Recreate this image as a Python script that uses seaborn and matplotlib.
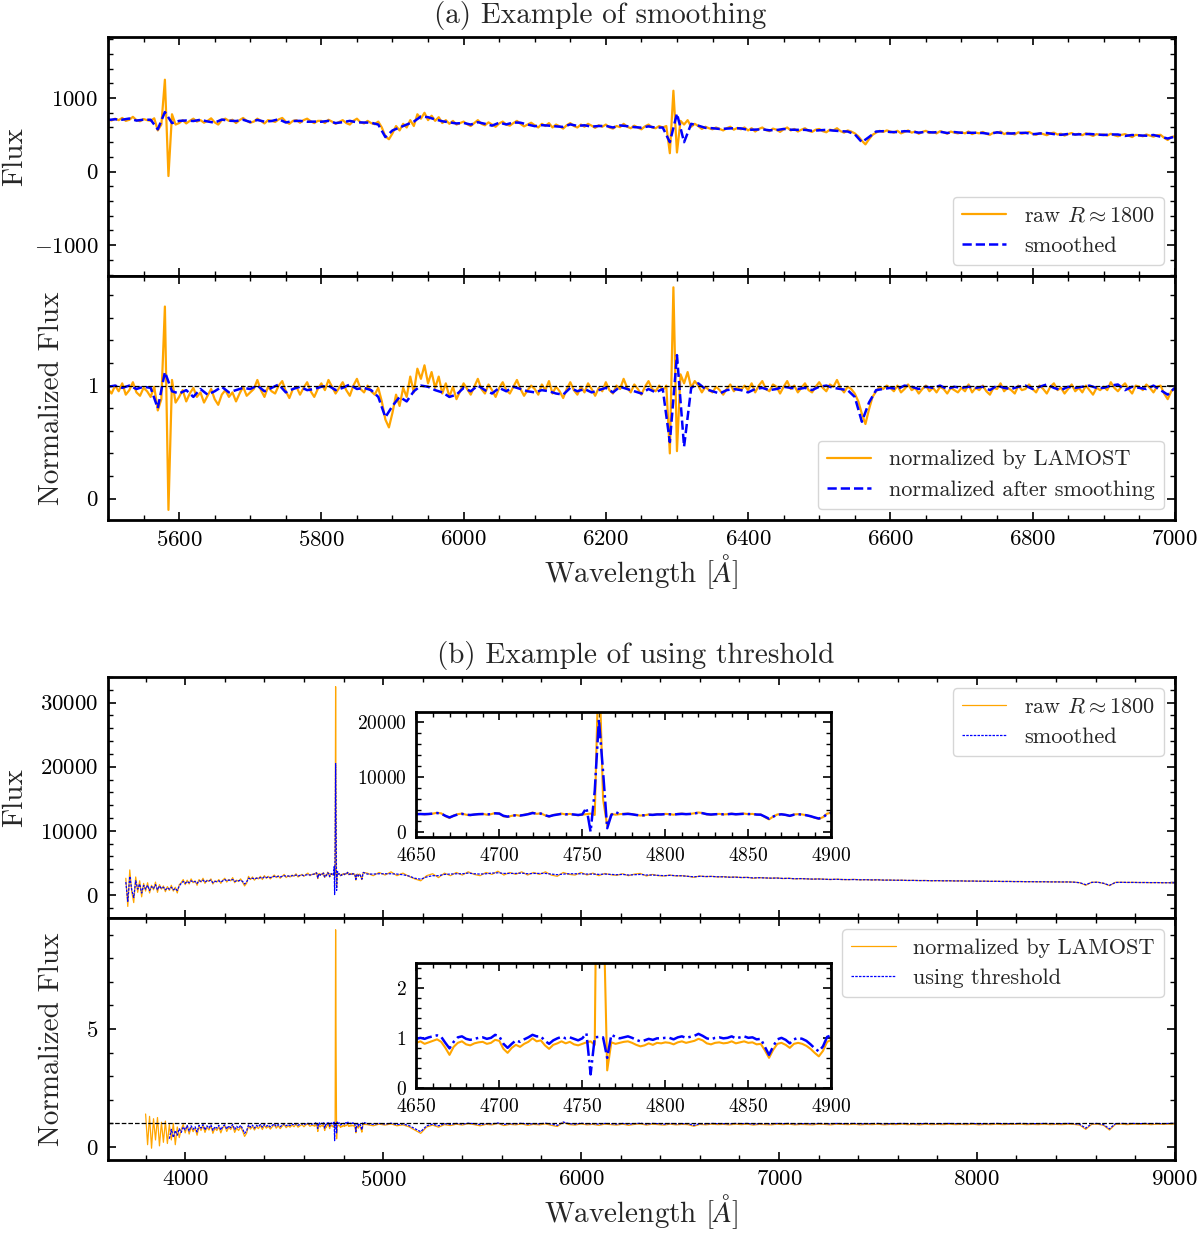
import numpy as np
import seaborn as sns
import matplotlib
matplotlib.use('Agg')
import matplotlib.pyplot as plt
from matplotlib.ticker import MultipleLocator

# ---------------- (a) smoothing, 5500-7000 A ----------------
wave_a = np.arange(5500, 7001, 5)
wave_a_s = np.arange(5500, 7001, 10)

flux_raw_a = [
    710, 695, 720, 700, 730, 690, 705, 745, 700, 685, 715, 700, 690, 725, 560, 640, 1250, -60, 780, 640,
    660, 700, 655, 690, 720, 680, 700, 665, 690, 725, 670, 640, 700, 720, 690, 705, 660, 700, 730, 690,
    665, 680, 720, 690, 655, 700, 690, 675, 710, 730, 680, 650, 690, 700, 665, 700, 720, 685, 660, 690,
    690, 660, 705, 680, 650, 675, 700, 660, 640, 690, 720, 670, 655, 690, 660, 645, 680, 600, 480, 440,
    520, 620, 560, 650, 600, 700, 620, 780, 720, 800, 700, 760, 690, 740, 660, 700, 650, 690, 640, 660,
    680, 645, 620, 660, 700, 650, 630, 670, 640, 610, 655, 680, 640, 625, 660, 690, 650, 615, 640, 665,
    630, 600, 650, 620, 660, 600, 640, 615, 585, 630, 660, 620, 600, 640, 610, 650, 625, 595, 630, 610,
    640, 600, 585, 620, 605, 650, 610, 590, 625, 600, 575, 615, 640, 600, 590, 620, 600, 620, 250, 1100,
    260, 690, 640, 700, 610, 650, 620, 580, 610, 590, 575, 600, 580, 560, 590, 610, 570, 595, 575, 600,
    560, 590, 545, 580, 600, 565, 550, 585, 570, 540, 575, 600, 560, 580, 545, 570, 590, 555, 540, 570,
    580, 550, 535, 570, 560, 590, 550, 530, 560, 545, 520, 480, 420, 370, 440, 500, 530, 555, 540, 560,
    545, 530, 555, 520, 540, 560, 530, 545, 515, 540, 555, 525, 540, 520, 550, 535, 515, 545, 530, 520,
    535, 520, 545, 510, 530, 520, 540, 515, 500, 530, 525, 545, 510, 530, 520, 505, 535, 515, 525, 540,
    515, 500, 525, 510, 495, 520, 530, 505, 515, 490, 510, 525, 500, 515, 495, 520, 505, 485, 510, 500,
    505, 490, 515, 495, 480, 500, 510, 490, 470, 500, 495, 480, 505, 490, 475, 495, 500, 460, 430, 470,
    480]

flux_smooth_a = [
    702, 712, 706, 722, 694, 706, 705, 575, 810, 660,
    690, 695, 688, 705, 682, 665, 708, 692, 688, 705,
    675, 702, 680, 688, 712, 668, 688, 690, 678, 680,
    678, 690, 660, 672, 690, 670, 668, 665, 640, 470,
    560, 600, 640, 680, 750, 740, 710, 685, 670, 655,
    662, 640, 672, 650, 625, 665, 642, 668, 665, 640,
    618, 632, 625, 615, 608, 642, 622, 630, 612, 620,
    622, 600, 628, 618, 605, 598, 615, 598, 600, 400,
    790, 400, 650, 625, 595, 590, 580, 585, 590, 588,
    568, 572, 575, 562, 565, 580, 570, 568, 568, 555,
    562, 568, 558, 550, 545, 508, 400, 470, 545, 550,
    538, 538, 550, 545, 530, 540, 532, 542, 525, 538,
    528, 528, 528, 525, 512, 535, 520, 518, 525, 528,
    508, 518, 525, 510, 500, 512, 505, 508, 512, 505,
    498, 505, 505, 485, 498, 492, 488, 498, 475, 450,
    475]

norm_lamost_a = [
    0.97, 0.93, 1.00, 0.95, 1.02, 0.92, 0.96, 1.03, 0.94, 0.91, 0.98, 0.95, 0.90, 0.99, 0.78, 0.88, 1.70, -0.10, 1.05, 0.85,
    0.90, 0.96, 0.86, 0.93, 0.98, 0.90, 0.94, 0.85, 0.91, 0.97, 0.88, 0.83, 0.92, 0.96, 0.90, 0.94, 0.86, 0.93, 0.99, 0.91,
    0.94, 0.97, 1.05, 0.96, 0.90, 0.99, 0.95, 0.93, 1.00, 1.04, 0.95, 0.89, 0.97, 0.99, 0.92, 0.98, 1.03, 0.95, 0.90, 0.97,
    1.02, 0.96, 1.05, 0.99, 0.93, 0.98, 1.03, 0.96, 0.91, 1.00, 1.06, 0.97, 0.94, 1.00, 0.95, 0.92, 0.98, 0.86, 0.70, 0.63,
    0.76, 0.92, 0.82, 0.98, 0.90, 1.08, 0.94, 1.15, 1.06, 1.18, 1.02, 1.12, 0.98, 1.08, 0.93, 1.02, 0.90, 0.99, 0.88, 0.95,
    1.02, 0.97, 0.92, 0.99, 1.06, 0.97, 0.93, 1.01, 0.96, 0.90, 0.98, 1.03, 0.96, 0.93, 0.99, 1.05, 0.97, 0.91, 0.96, 1.00,
    0.97, 0.92, 1.01, 0.96, 1.04, 0.93, 0.99, 0.95, 0.89, 0.97, 1.03, 0.96, 0.92, 0.99, 0.94, 1.02, 0.97, 0.91, 0.98, 0.95,
    1.03, 0.96, 0.93, 1.00, 0.97, 1.06, 0.98, 0.94, 1.01, 0.97, 0.92, 0.99, 1.04, 0.97, 0.95, 1.00, 0.96, 1.00, 0.40, 1.87,
    0.42, 1.10, 1.02, 1.12, 0.98, 1.04, 1.00, 0.94, 0.99, 0.96, 0.94, 0.99, 0.96, 0.92, 0.97, 1.01, 0.95, 0.99, 0.96, 1.00,
    0.96, 1.02, 0.94, 1.00, 1.04, 0.97, 0.95, 1.01, 0.99, 0.93, 0.99, 1.04, 0.97, 1.00, 0.94, 0.98, 1.02, 0.96, 0.94, 0.99,
    1.03, 0.98, 0.95, 1.01, 0.99, 1.05, 0.98, 0.94, 0.99, 0.97, 0.93, 0.86, 0.75, 0.66, 0.79, 0.90, 0.95, 0.99, 0.97, 1.00,
    0.98, 0.95, 1.00, 0.94, 0.97, 1.01, 0.96, 0.98, 0.93, 0.97, 1.00, 0.95, 0.98, 0.94, 0.99, 0.97, 0.93, 0.98, 0.96, 0.94,
    0.98, 0.95, 1.01, 0.94, 0.98, 0.96, 1.00, 0.95, 0.92, 0.98, 0.97, 1.02, 0.95, 0.98, 0.96, 0.93, 1.00, 0.96, 0.97, 1.01,
    0.97, 0.94, 1.00, 0.97, 0.93, 0.99, 1.02, 0.96, 0.98, 0.93, 0.97, 1.01, 0.95, 0.98, 0.94, 1.00, 0.96, 0.92, 0.98, 0.96,
    0.99, 0.96, 1.03, 0.98, 0.95, 0.99, 1.02, 0.97, 0.93, 1.00, 0.99, 0.96, 1.01, 0.98, 0.94, 0.99, 1.00, 0.93, 0.88, 0.95,
    0.98]

norm_smooth_a = [
    0.99, 1.00, 0.98, 1.00, 0.97, 0.99, 0.98, 0.80, 1.12, 0.95,
    0.93, 0.96, 0.90, 0.97, 0.92, 0.95, 0.99, 0.94, 0.96, 0.98,
    0.97, 1.00, 0.95, 0.98, 1.01, 0.94, 0.97, 0.99, 0.96, 0.97,
    0.99, 1.00, 0.96, 0.98, 1.01, 0.97, 0.98, 0.96, 0.90, 0.72,
    0.82, 0.90, 0.86, 0.95, 1.00, 0.99, 0.96, 0.94, 0.90, 0.92,
    0.98, 0.95, 1.00, 0.96, 0.93, 0.98, 0.95, 0.99, 0.97, 0.95,
    0.94, 0.96, 0.95, 0.93, 0.92, 0.98, 0.95, 0.97, 0.94, 0.96,
    0.98, 0.94, 0.99, 0.97, 0.95, 0.93, 0.97, 0.94, 0.97, 0.50,
    1.27, 0.46, 0.98, 1.02, 0.97, 0.95, 0.93, 0.96, 0.97, 0.96,
    0.94, 0.97, 0.98, 0.96, 0.97, 0.99, 0.98, 0.97, 0.98, 0.96,
    0.99, 1.00, 0.98, 0.97, 0.96, 0.90, 0.68, 0.85, 0.96, 0.97,
    0.98, 0.97, 1.00, 0.99, 0.97, 0.99, 0.98, 1.00, 0.97, 0.99,
    0.98, 0.99, 0.98, 0.99, 0.96, 1.00, 0.98, 0.97, 0.99, 1.00,
    0.97, 0.99, 1.01, 0.98, 0.96, 0.99, 0.98, 0.99, 1.00, 0.98,
    0.98, 1.00, 1.01, 0.96, 0.99, 0.98, 0.97, 1.00, 0.96, 0.92,
    0.98]

# ---------------- (b) threshold, 3700-9000 A ----------------
wave_b_left = np.arange(3700, 4641, 10)
wave_b_zoom = np.arange(4650, 4900.1, 2.5)
wave_b_right = np.arange(4920, 9001, 30)
wave_bn_left = np.arange(3800, 4641, 10)
wave_bt_left = np.arange(3920, 4641, 10)

flux_raw_b_left = [
    2600, -1800, 3900, 500, -1200, 2800, 400, 2200, -300, 1800,
    600, 1900, 300, 1500, 800, 2000, 400, 1600, 900, 1400,
    500, 1300, 700, 1500, 600, 1200, 300, 1600, 1900, 2400,
    1600, 2300, 1700, 2500, 1900, 2200, 1500, 2400, 2000, 2600,
    1800, 2300, 2100, 2500, 1700, 2200, 2000, 2400, 1800, 2300,
    2600, 2000, 2400, 2200, 2700, 1900, 2300, 2100, 2500, 2000,
    1400, 1800, 2900, 2400, 2800, 2300, 2700, 2500, 2900, 2400,
    3000, 2600, 2900, 2500, 2800, 3100, 2700, 3000, 2600, 2900,
    3200, 2700, 3000, 2800, 3100, 2900, 3300, 2800, 3000, 3200,
    2900, 3200, 3400, 3000, 3200]
flux_smooth_b_left = [
    2000, -1000, 2900, 800, -400, 2200, 900, 1700, 300, 1500,
    900, 1500, 700, 1300, 1000, 1600, 800, 1400, 1000, 1200,
    800, 1100, 900, 1200, 800, 1000, 700, 1400, 1800, 2100,
    1800, 2100, 1900, 2200, 2000, 2100, 1800, 2200, 2100, 2300,
    2000, 2200, 2200, 2300, 1900, 2100, 2100, 2200, 2000, 2200,
    2400, 2200, 2300, 2300, 2400, 2100, 2200, 2200, 2300, 2100,
    1700, 2000, 2600, 2500, 2600, 2500, 2600, 2600, 2700, 2600,
    2800, 2700, 2800, 2700, 2800, 2900, 2800, 2900, 2800, 2900,
    3000, 2900, 2950, 2900, 3000, 3000, 3100, 2950, 3050, 3100,
    3000, 3100, 3200, 3100, 3150]

flux_raw_b_zoom = [
    3250, 3300, 3200, 3280, 3350, 3500, 3400, 2900, 2550, 3000,
    3250, 3350, 3150, 3050, 3200, 3250, 3300, 3150, 3250, 3450,
    3400, 2850, 2750, 2950, 3100, 2950, 3150, 3300, 3550, 3300,
    3400, 3050, 2800, 3100, 3200, 3350, 3200, 3300, 3150, 3050,
    3150, 3250, 3350, 3100, 32500, 6000, 1150, 3300, 3150, 3250,
    3300, 3350, 3250, 3100, 3000, 3050, 3200, 3100, 3250, 3200,
    3300, 3250, 3150, 3300, 3350, 3250, 3300, 3400, 3550, 3450,
    3200, 3150, 3250, 3300, 3200, 3250, 3350, 3200, 3300, 3350,
    3250, 3300, 3150, 3200, 2700, 2300, 2800, 3200, 3250, 3100,
    2900, 3200, 3250, 3200, 3050, 2850, 2600, 2400, 2700, 3350,
    3500]
flux_smooth_b_zoom = [
    3250, 3270, 3250, 3280, 3350, 3450, 3350, 2950, 2650, 2950,
    3200, 3300, 3150, 3100, 3180, 3250, 3270, 3200, 3250, 3400,
    3350, 2950, 2800, 2950, 3050, 3000, 3100, 3250, 3450, 3350,
    3350, 3050, 2850, 3050, 3180, 3300, 3220, 3250, 3180, 3100,
    3200, 4400, 50, 7500, 20500, 11000, 700, 3100, 3650, 3250,
    3250, 3300, 3220, 3100, 3020, 3050, 3150, 3120, 3200, 3200,
    3250, 3230, 3180, 3250, 3300, 3250, 3280, 3380, 3500, 3420,
    3250, 3180, 3230, 3270, 3220, 3240, 3300, 3230, 3270, 3320,
    3270, 3270, 3180, 3150, 2800, 2420, 2800, 3150, 3220, 3120,
    2950, 3150, 3220, 3180, 3050, 2880, 2650, 2450, 2700, 3250,
    3500]

flux_raw_b_right = [
    3400, 3000, 3500, 3100, 3600, 3000, 3400, 2900, 2500, 2200,
    3000, 3300, 2700, 3400, 3000, 3500, 3100, 3600, 3200, 3000,
    3500, 3200, 3700, 3100, 3500, 3200, 3600, 3100, 3500, 3200,
    3600, 3100, 2900, 3500, 3200, 3100, 3500, 3100, 3400, 3000,
    3350, 3150, 3050, 3300, 3000, 3250, 3350, 2950, 3200, 3000,
    2950, 3100, 2950, 3000, 2900, 2750, 2950, 2850, 2900, 2800,
    2850, 2750, 2800, 2700, 2750, 2600, 2700, 2650, 2600, 2650,
    2550, 2600, 2500, 2550, 2500, 2450, 2500, 2450, 2400, 2450,
    2400, 2380, 2420, 2350, 2380, 2330, 2360, 2300, 2320, 2280,
    2300, 2250, 2270, 2230, 2250, 2200, 2230, 2190, 2210, 2170,
    2190, 2150, 2170, 2130, 2150, 2110, 2130, 2090, 2110, 2080,
    2090, 2060, 2070, 2040, 2060, 2030, 2040, 2010, 2030, 2000,
    1900, 1500, 1980, 1990, 1800, 1450, 1960, 1970, 1940, 1960,
    1930, 1940, 1910, 1930, 1900, 1910, 1890]
flux_smooth_b_right = [
    3250, 3250, 3300, 3300, 3300, 3250, 3150, 2950, 2600, 2450,
    2800, 3000, 3000, 3200, 3250, 3300, 3300, 3400, 3300, 3250,
    3300, 3400, 3450, 3350, 3350, 3350, 3400, 3300, 3350, 3350,
    3350, 3250, 3150, 3250, 3300, 3300, 3300, 3250, 3250, 3200,
    3250, 3200, 3150, 3200, 3100, 3150, 3200, 3100, 3100, 3050,
    3000, 3050, 3000, 2980, 2900, 2820, 2900, 2870, 2880, 2830,
    2820, 2770, 2770, 2720, 2720, 2650, 2680, 2650, 2620, 2630,
    2570, 2580, 2520, 2540, 2500, 2470, 2480, 2450, 2410, 2440,
    2400, 2390, 2400, 2360, 2370, 2340, 2350, 2310, 2310, 2290,
    2290, 2260, 2260, 2240, 2240, 2210, 2220, 2200, 2200, 2180,
    2180, 2160, 2160, 2140, 2140, 2120, 2120, 2100, 2100, 2080,
    2080, 2060, 2060, 2050, 2050, 2030, 2030, 2020, 2020, 1990,
    1900, 1600, 1950, 1980, 1820, 1500, 1940, 1960, 1950, 1950,
    1930, 1930, 1920, 1920, 1900, 1900, 1890]

norm_lamost_b_left = [
    1.40, 0.10, 1.30, -0.05, 1.20, 0.30, 1.25, 0.05, 1.05, 0.20,
    1.10, 0.15, 0.95, 0.30, 1.00, 0.10, 0.85, 0.40, 0.75, 0.95,
    0.60, 0.90, 0.55, 0.85, 0.65, 0.80, 0.50, 0.88, 0.70, 0.92,
    0.62, 0.85, 0.72, 0.90, 0.58, 0.80, 0.70, 0.86, 0.60, 0.82,
    0.90, 0.66, 0.84, 0.74, 0.92, 0.62, 0.80, 0.70, 0.86, 0.68,
    0.45, 0.58, 0.90, 0.76, 0.88, 0.72, 0.86, 0.78, 0.92, 0.74,
    0.92, 0.80, 0.88, 0.76, 0.86, 0.94, 0.80, 0.90, 0.78, 0.88,
    0.95, 0.82, 0.90, 0.84, 0.93, 0.86, 0.97, 0.84, 0.90, 0.95,
    0.86, 0.94, 0.98, 0.88, 0.92]
norm_thresh_b_left = [
    0.35, 0.75, 0.40, 0.70, 0.50, 0.78, 0.62, 0.85,
    0.72, 0.92, 0.68, 0.90, 0.75, 0.86, 0.64, 0.92, 0.80, 0.95,
    0.72, 0.90, 0.80, 0.94, 0.70, 0.86, 0.80, 0.92, 0.72, 0.88,
    0.94, 0.76, 0.90, 0.82, 0.96, 0.74, 0.88, 0.80, 0.92, 0.78,
    0.58, 0.68, 0.94, 0.84, 0.93, 0.80, 0.92, 0.86, 0.96, 0.84,
    0.96, 0.88, 0.93, 0.85, 0.92, 0.98, 0.88, 0.95, 0.86, 0.93,
    0.99, 0.90, 0.95, 0.91, 0.98, 0.93, 1.00, 0.92, 0.96, 0.99,
    0.94, 0.99, 1.01, 0.95, 0.97]

norm_lamost_b_zoom = [
    0.90, 0.93, 0.88, 0.91, 0.94, 0.97, 0.92, 0.80, 0.66, 0.82,
    0.90, 0.93, 0.87, 0.85, 0.89, 0.91, 0.92, 0.88, 0.90, 0.96,
    0.94, 0.78, 0.70, 0.80, 0.86, 0.82, 0.88, 0.92, 0.99, 0.93,
    0.95, 0.85, 0.78, 0.86, 0.89, 0.93, 0.89, 0.92, 0.87, 0.85,
    0.88, 0.91, 0.93, 0.86, 9.20, 4.00, 0.35, 0.91, 0.88, 0.90,
    0.92, 0.93, 0.90, 0.86, 0.83, 0.85, 0.89, 0.86, 0.90, 0.89,
    0.91, 0.90, 0.87, 0.91, 0.93, 0.90, 0.92, 0.94, 0.98, 0.95,
    0.89, 0.87, 0.90, 0.91, 0.89, 0.90, 0.93, 0.89, 0.91, 0.93,
    0.90, 0.91, 0.87, 0.88, 0.75, 0.60, 0.76, 0.88, 0.90, 0.86,
    0.80, 0.88, 0.90, 0.88, 0.84, 0.78, 0.70, 0.63, 0.74, 0.92,
    0.96]
norm_thresh_b_zoom = [
    0.98, 1.00, 0.98, 1.01, 1.03, 1.05, 1.02, 0.90, 0.79, 0.92,
    1.01, 1.03, 0.98, 0.96, 0.98, 1.00, 1.01, 0.98, 1.00, 1.06,
    1.03, 0.88, 0.80, 0.88, 0.95, 0.92, 0.97, 1.01, 1.06, 1.03,
    1.03, 0.94, 0.88, 0.95, 0.99, 1.02, 0.99, 1.01, 0.98, 0.95,
    0.99, 1.09, 0.27, 1.01, 1.02, 1.01, 0.60, 1.06, 1.02, 0.99,
    1.01, 1.03, 1.00, 0.96, 0.93, 0.95, 0.98, 0.96, 0.99, 0.99,
    1.00, 1.00, 0.97, 1.01, 1.03, 1.00, 1.02, 1.04, 1.08, 1.04,
    0.99, 0.97, 1.00, 1.01, 0.99, 1.00, 1.03, 0.99, 1.01, 1.03,
    1.00, 1.01, 0.97, 0.98, 0.82, 0.66, 0.83, 0.97, 1.00, 0.96,
    0.89, 0.97, 1.00, 0.98, 0.94, 0.87, 0.79, 0.73, 0.83, 1.02,
    1.05]

norm_lamost_b_right = [
    0.95, 0.90, 0.97, 0.93, 0.98, 0.90, 0.94, 0.86, 0.72, 0.58,
    0.85, 0.93, 0.84, 0.95, 0.91, 0.97, 0.93, 0.99, 0.95, 0.90,
    0.96, 0.94, 1.00, 0.91, 0.96, 0.94, 0.98, 0.92, 0.96, 0.94,
    0.98, 0.92, 0.87, 1.05, 0.95, 0.93, 0.98, 0.94, 0.96, 0.92,
    0.97, 0.95, 0.93, 0.97, 0.92, 0.96, 0.98, 0.93, 0.97, 0.95,
    0.93, 0.97, 0.94, 0.96, 0.95, 0.88, 0.96, 0.94, 0.97, 0.95,
    0.96, 0.94, 0.97, 0.95, 0.97, 0.93, 0.96, 0.95, 0.94, 0.97,
    0.95, 0.97, 0.94, 0.96, 0.95, 0.94, 0.97, 0.96, 0.94, 0.97,
    0.96, 0.95, 0.97, 0.94, 0.96, 0.95, 0.97, 0.94, 0.96, 0.95,
    0.97, 0.95, 0.96, 0.94, 0.97, 0.95, 0.96, 0.95, 0.97, 0.95,
    0.96, 0.95, 0.97, 0.94, 0.96, 0.95, 0.97, 0.95, 0.96, 0.96,
    0.97, 0.95, 0.96, 0.95, 0.97, 0.95, 0.96, 0.95, 0.97, 0.96,
    0.93, 0.75, 0.96, 0.97, 0.92, 0.72, 0.96, 0.97, 0.95, 0.97,
    0.96, 0.97, 0.95, 0.97, 0.96, 0.97, 0.98]
norm_thresh_b_right = [
    0.99, 0.96, 1.00, 0.97, 1.01, 0.95, 0.98, 0.91, 0.78, 0.65,
    0.90, 0.97, 0.90, 0.99, 0.96, 1.00, 0.97, 1.01, 0.99, 0.95,
    0.99, 0.98, 1.02, 0.96, 0.99, 0.98, 1.01, 0.97, 0.99, 0.98,
    1.01, 0.97, 0.92, 1.06, 0.99, 0.97, 1.01, 0.98, 0.99, 0.97,
    1.00, 0.99, 0.97, 1.00, 0.97, 0.99, 1.01, 0.97, 1.00, 0.99,
    0.97, 1.00, 0.98, 0.99, 0.99, 0.92, 0.99, 0.98, 1.00, 0.99,
    0.99, 0.98, 1.00, 0.99, 1.00, 0.97, 0.99, 0.99, 0.98, 1.00,
    0.99, 1.00, 0.98, 0.99, 0.99, 0.98, 1.00, 0.99, 0.98, 1.00,
    0.99, 0.99, 1.00, 0.98, 0.99, 0.99, 1.00, 0.98, 0.99, 0.99,
    1.00, 0.99, 0.99, 0.98, 1.00, 0.99, 0.99, 0.99, 1.00, 0.99,
    0.99, 0.99, 1.00, 0.98, 0.99, 0.99, 1.00, 0.99, 0.99, 0.99,
    1.00, 0.99, 0.99, 0.99, 1.00, 0.99, 0.99, 0.99, 1.00, 0.99,
    0.96, 0.80, 0.99, 1.00, 0.95, 0.77, 0.99, 1.00, 0.99, 1.00,
    0.99, 1.00, 0.99, 1.00, 0.99, 1.00, 1.00]

# full b spectra
wave_b = np.concatenate([wave_b_left, wave_b_zoom, wave_b_right])
flux_raw_b = np.concatenate([flux_raw_b_left, flux_raw_b_zoom, flux_raw_b_right])
flux_smooth_b = np.concatenate([flux_smooth_b_left, flux_smooth_b_zoom, flux_smooth_b_right])
wave_bn = np.concatenate([wave_bn_left, wave_b_zoom, wave_b_right])
norm_lamost_b = np.concatenate([norm_lamost_b_left, norm_lamost_b_zoom, norm_lamost_b_right])
wave_bt = np.concatenate([wave_bt_left, wave_b_zoom, wave_b_right])
norm_thresh_b = np.concatenate([norm_thresh_b_left, norm_thresh_b_zoom, norm_thresh_b_right])

# ---------------- style ----------------
sns.set_theme(style='ticks')
plt.rcParams.update({
    'font.family': 'serif',
    'font.serif': ['cmr10', 'DejaVu Serif'],
    'mathtext.fontset': 'cm',
    'axes.formatter.use_mathtext': True,
    'axes.unicode_minus': True,
    'axes.linewidth': 2.0,
    'axes.edgecolor': 'black',
    'xtick.color': 'black',
    'ytick.color': 'black',
    'axes.labelsize': 21,
    'legend.fontsize': 16,
})

ORANGE = '#FFA500'
BLUE = '#0000FF'


def style_ax(ax, xmaj, xmin, ymaj, ymin, lsize=16.5):
    ax.xaxis.set_major_locator(MultipleLocator(xmaj))
    ax.xaxis.set_minor_locator(MultipleLocator(xmin))
    ax.yaxis.set_major_locator(MultipleLocator(ymaj))
    ax.yaxis.set_minor_locator(MultipleLocator(ymin))
    ax.tick_params(which='both', direction='in', top=True, right=True,
                   labelsize=lsize, pad=7)
    ax.tick_params(which='major', length=6, width=1.2)
    ax.tick_params(which='minor', length=3.5, width=1.0)


fig = plt.figure(figsize=(12, 12.35), dpi=100)
L, W = 0.09, 0.889

ax_a1 = fig.add_axes([L, 0.7765, W, 0.1935])
ax_a2 = fig.add_axes([L, 0.5789, W, 0.1976], sharex=ax_a1)
ax_b1 = fig.add_axes([L, 0.2567, W, 0.1951])
ax_b2 = fig.add_axes([L, 0.0607, W, 0.1960], sharex=ax_b1)

# (a) top: flux
sns.lineplot(x=wave_a, y=flux_raw_a, ax=ax_a1, color=ORANGE, lw=1.6,
             estimator=None, label=r'raw $R \approx 1800$')
sns.lineplot(x=wave_a_s, y=flux_smooth_a, ax=ax_a1, color=BLUE, lw=1.8,
             linestyle='--', estimator=None, label='smoothed')
ax_a1.set_xlim(5500, 7000)
ax_a1.set_ylim(-1420, 1830)
style_ax(ax_a1, 200, 50, 1000, 200)
ax_a1.tick_params(labelbottom=False)
ax_a1.set_ylabel('Flux')
ax_a1.legend(loc='lower right', frameon=True, fancybox=True, borderaxespad=0.5)

# (a) bottom: normalized
sns.lineplot(x=wave_a, y=norm_lamost_a, ax=ax_a2, color=ORANGE, lw=1.6,
             estimator=None, label='normalized by LAMOST')
sns.lineplot(x=wave_a_s, y=norm_smooth_a, ax=ax_a2, color=BLUE, lw=1.8,
             linestyle='--', estimator=None, label='normalized after smoothing')
ax_a2.axhline(1, color='black', lw=0.9, ls='--', zorder=5)
ax_a2.set_ylim(-0.19, 1.97)
style_ax(ax_a2, 200, 50, 1, 0.2)
ax_a2.set_ylabel('Normalized Flux')
ax_a2.set_xlabel(r'Wavelength [$\AA$]', labelpad=2)
ax_a2.legend(loc='lower right', frameon=True, fancybox=True, borderaxespad=0.5)

# (b) top: flux
sns.lineplot(x=wave_b, y=flux_raw_b, ax=ax_b1, color=ORANGE, lw=0.9,
             estimator=None, label=r'raw $R \approx 1800$')
sns.lineplot(x=wave_b, y=flux_smooth_b, ax=ax_b1, color=BLUE, lw=0.9,
             linestyle=(0, (2, 1)), estimator=None, label='smoothed')
ax_b1.set_xlim(3610, 9000)
ax_b1.set_ylim(-3600, 34000)
style_ax(ax_b1, 1000, 200, 10000, 2000)
ax_b1.tick_params(labelbottom=False)
ax_b1.set_ylabel('Flux')
ax_b1.legend(loc='upper right', frameon=True, fancybox=True, borderaxespad=0.5)

ins1 = ax_b1.inset_axes([0.289, 0.336, 0.389, 0.519])
sns.lineplot(x=wave_b_zoom, y=flux_raw_b_zoom, ax=ins1, color=ORANGE, lw=1.5,
             estimator=None)
sns.lineplot(x=wave_b_zoom, y=flux_smooth_b_zoom, ax=ins1, color=BLUE, lw=1.8,
             linestyle='-.', estimator=None)
ins1.set_xlim(4650, 4900)
ins1.set_ylim(-900, 21800)
style_ax(ins1, 50, 10, 10000, 2000, lsize=14)
ins1.set_xlabel('')
ins1.set_ylabel('')

# (b) bottom: normalized
sns.lineplot(x=wave_bn, y=norm_lamost_b, ax=ax_b2, color=ORANGE, lw=0.9,
             estimator=None, label='normalized by LAMOST')
sns.lineplot(x=wave_bt, y=norm_thresh_b, ax=ax_b2, color=BLUE, lw=0.9,
             linestyle=(0, (2, 1)), estimator=None, label='using threshold')
ax_b2.axhline(1, color='black', lw=0.9, ls='--', zorder=5)
ax_b2.set_ylim(-0.55, 9.7)
style_ax(ax_b2, 1000, 200, 5, 1)
ax_b2.set_ylabel('Normalized Flux')
ax_b2.set_xlabel(r'Wavelength [$\AA$]', labelpad=2)
ax_b2.legend(loc='upper right', frameon=True, fancybox=True, borderaxespad=0.5)

ins2 = ax_b2.inset_axes([0.289, 0.298, 0.389, 0.517])
sns.lineplot(x=wave_b_zoom, y=norm_lamost_b_zoom, ax=ins2, color=ORANGE, lw=1.5,
             estimator=None)
sns.lineplot(x=wave_b_zoom, y=norm_thresh_b_zoom, ax=ins2, color=BLUE, lw=1.8,
             linestyle='-.', estimator=None)
ins2.set_xlim(4650, 4900)
ins2.set_ylim(0, 2.5)
style_ax(ins2, 50, 10, 1, 0.2, lsize=14)
ins2.set_xlabel('')
ins2.set_ylabel('')

for ax in (ax_a1, ax_a2, ax_b1, ax_b2):
    ax.yaxis.set_label_coords(-0.075 if ax in (ax_a1, ax_b1) else -0.04, 0.5)

fig.text(0.5, 1 - 15 / 1235, '(a) Example of smoothing', ha='center',
         va='center', fontsize=21)
fig.text(0.53, 1 - 655 / 1235, '(b) Example of using threshold', ha='center',
         va='center', fontsize=21)

fig.savefig('out.png', dpi=100)
